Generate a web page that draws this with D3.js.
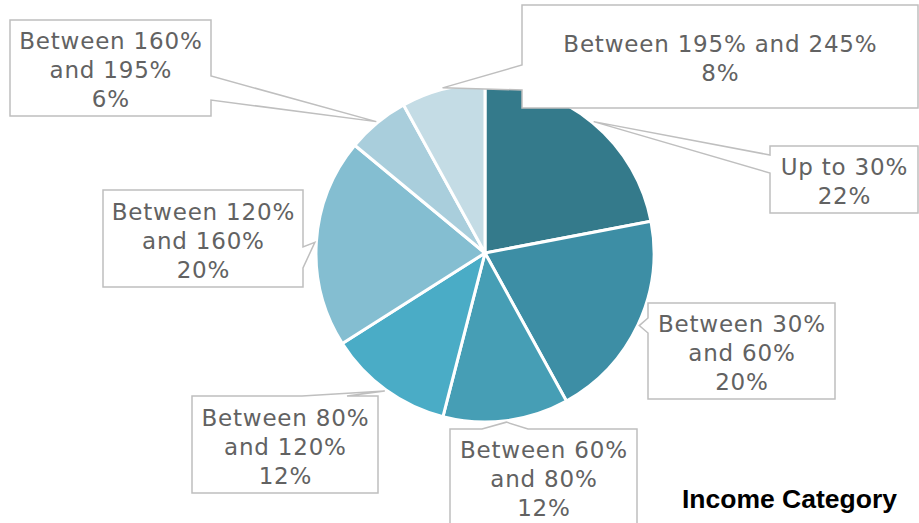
<!DOCTYPE html>
<html>
<head>
<meta charset="utf-8">
<script src="https://cdn.jsdelivr.net/npm/d3@7"></script>
<style>
  html, body { margin: 0; padding: 0; background: #ffffff; }
  svg { display: block; }
</style>
</head>
<body>
<svg id="chart" width="919" height="523"></svg>
<script>
// ---- data ----
const categories = [
  "Up to 30%",
  "Between 30% and 60%",
  "Between 60% and 80%",
  "Between 80% and 120%",
  "Between 120% and 160%",
  "Between 160% and 195%",
  "Between 195% and 245%"
];
const shares = [22, 20, 12, 12, 20, 6, 8];
const sliceColors = ["#347a8b", "#3d8ea5", "#469eb5", "#4aacc6", "#84bed1", "#a9cedc", "#c4dce5"];
const chartTitle = "Income Category";

// ---- callout layout (box + wedge base on one side) ----
const callouts = [
  { box: [770, 146, 148, 67],  side: "left",  base: [155, 173], wrap: false },
  { box: [648, 303, 187, 96],  side: "left",  base: [318, 333], wrap: true },
  { box: [450, 429, 187, 95],  side: "top",   base: [482, 528], wrap: true },
  { box: [192, 396, 186, 97],  side: "top",   base: [302, 347], wrap: true },
  { box: [103, 190, 200, 97],  side: "right", base: [247, 268], wrap: true },
  { box: [10, 20, 201, 96],    side: "right", base: [76, 100],  wrap: true },
  { box: [522, 5, 396, 103],   side: "left",  base: [65, 90],   wrap: false }
];

const svg = d3.select("#chart");
const cx = 485, cy = 253, radius = 169;

const pie = d3.pie().sort(null).value(d => d).startAngle(0).endAngle(2 * Math.PI);
const arcs = pie(shares);
const arc = d3.arc().innerRadius(0).outerRadius(radius);
const color = d3.scaleOrdinal().domain(categories).range(sliceColors);

const g = svg.append("g").attr("transform", `translate(${cx},${cy})`);
g.selectAll("path.slice")
  .data(arcs)
  .join("path")
  .attr("class", "slice")
  .attr("d", arc)
  .attr("fill", (d, i) => color(categories[i]))
  .attr("stroke", "#ffffff")
  .attr("stroke-width", 3)
  .attr("stroke-linejoin", "round");

// callout tip: point just outside the arc at mid angle
const tipR = radius + 1.5;
function tipOf(d) {
  const a = (d.startAngle + d.endAngle) / 2;
  return [cx + tipR * Math.sin(a), cy - tipR * Math.cos(a)];
}

function calloutPath(c, tip) {
  const [x, y, w, h] = c.box;
  const [b1, b2] = c.base;
  const p = d3.path();
  if (c.side === "left") {
    p.moveTo(x, y); p.lineTo(x + w, y); p.lineTo(x + w, y + h); p.lineTo(x, y + h);
    p.lineTo(x, b2); p.lineTo(tip[0], tip[1]); p.lineTo(x, b1); p.closePath();
  } else if (c.side === "right") {
    p.moveTo(x, y); p.lineTo(x + w, y); p.lineTo(x + w, b1); p.lineTo(tip[0], tip[1]);
    p.lineTo(x + w, b2); p.lineTo(x + w, y + h); p.lineTo(x, y + h); p.closePath();
  } else if (c.side === "top") {
    p.moveTo(x, y); p.lineTo(b1, y); p.lineTo(tip[0], tip[1]); p.lineTo(b2, y);
    p.lineTo(x + w, y); p.lineTo(x + w, y + h); p.lineTo(x, y + h); p.closePath();
  }
  return p.toString();
}

function labelLines(name, value, wrap) {
  const pct = value + "%";
  if (!wrap) return [name, pct];
  const k = name.indexOf(" and ");
  if (k < 0) return [name, pct];
  return [name.slice(0, k), name.slice(k + 1), pct];
}

const lab = svg.append("g").attr("class", "labels");
arcs.forEach((d, i) => {
  const c = callouts[i];
  const tip = tipOf(d);
  lab.append("path")
    .attr("d", calloutPath(c, tip))
    .attr("fill", "#ffffff")
    .attr("stroke", "#bfbfbf")
    .attr("stroke-width", 1.5)
    .attr("stroke-linejoin", "miter");
  const [x, y, w, h] = c.box;
  const lines = labelLines(categories[i], shares[i], c.wrap);
  const lh = 29;
  const t = lab.append("text")
    .attr("text-anchor", "middle")
    .attr("font-family", "'DejaVu Sans', sans-serif")
    .attr("font-size", 23)
    .attr("letter-spacing", 0.8)
    .attr("fill", "#626262");
  lines.forEach((s, j) => {
    t.append("tspan")
      .attr("x", x + w / 2 + 0.4)
      .attr("y", y + h / 2 + 10 + (j - (lines.length - 1) / 2) * lh)
      .text(s);
  });
});

svg.append("text")
  .attr("x", 789.5)
  .attr("y", 508)
  .attr("text-anchor", "middle")
  .attr("font-family", "'Liberation Sans', Arial, sans-serif")
  .attr("font-weight", "bold")
  .attr("font-size", 26.5)
  .attr("fill", "#000000")
  .text(chartTitle);
</script>
</body>
</html>
